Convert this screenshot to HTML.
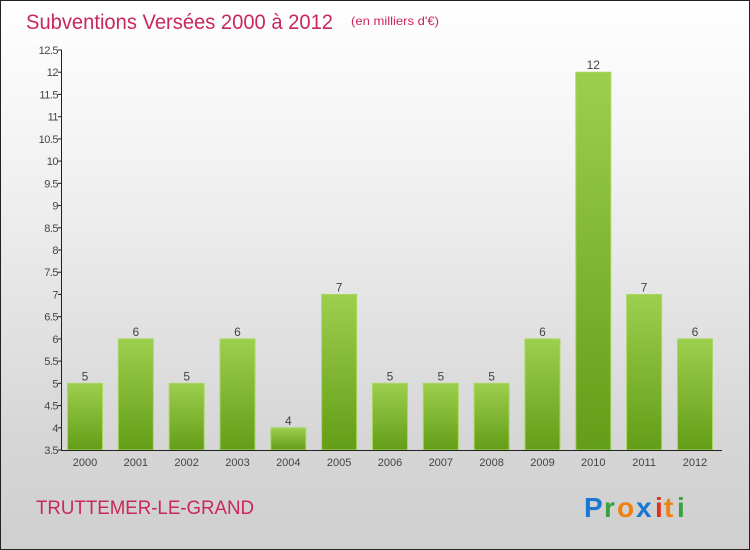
<!DOCTYPE html>
<html><head><meta charset="utf-8"><style>
html,body{margin:0;padding:0}
body{width:750px;height:550px;overflow:hidden;font-family:"Liberation Sans",sans-serif}
#frame{position:absolute;left:0;top:0;width:748px;height:548px;border:1px solid #222;background:linear-gradient(#ffffff,#f2f2f2 30%,#d6d6d6 80%,#cfcfcf)}
</style></head><body>
<div id="frame"></div>
<svg id="svg" width="750" height="550" style="position:absolute;left:0;top:0">
<text x="26" y="29" font-size="21" fill="#c8285a" textLength="307" lengthAdjust="spacingAndGlyphs">Subventions Versées 2000 à 2012</text>
<text x="351" y="25" font-size="12" fill="#c8285a" textLength="88" lengthAdjust="spacingAndGlyphs">(en milliers d'€)</text>
<text x="36" y="514" font-size="19" fill="#c8285a" textLength="218" lengthAdjust="spacingAndGlyphs">TRUTTEMER-LE-GRAND</text>
<g font-size="28" font-weight="bold" font-family="'Liberation Sans',sans-serif">
<text x="584" y="517" fill="#1a78d0">P</text><text x="604" y="517" fill="#3aa040">r</text><text x="617" y="517" fill="#f08010">o</text><text x="636" y="517" fill="#1a78d0">x</text><text x="655" y="517" fill="#e03020">i</text><text x="664" y="517" fill="#f08010">t</text><text x="677" y="517" fill="#3aa040">i</text>
</g>
<defs><linearGradient id="bg" x1="0" y1="0" x2="0" y2="1"><stop offset="0" stop-color="#9ccf4e"/><stop offset="1" stop-color="#649d17"/></linearGradient></defs>
<g id="plot"></g>
</svg>
<script>
const years=["2000","2001","2002","2003","2004","2005","2006","2007","2008","2009","2010","2011","2012"];
const values=[5,6,5,6,4,7,5,5,5,6,12,7,6];
const labels=["5","6","5","6","4","7","5","5","5","6","12","7","6"];
const ticks=[3.5,4,4.5,5,5.5,6,6.5,7,7.5,8,8.5,9,9.5,10,10.5,11,11.5,12,12.5];
const ns="http://www.w3.org/2000/svg";
const g=document.getElementById('plot');
const y=v=>450-(v-3.5)*400/9;
const x=i=>85+i*50.83;
function mk(t,a){const e=document.createElementNS(ns,t);for(const k in a)e.setAttribute(k,a[k]);g.appendChild(e);return e;}
values.forEach((v,i)=>{
 const r=mk('rect',{x:x(i)-17.5,y:y(v),width:35,height:450-y(v),fill:'url(#bg)',stroke:'#a8d860','stroke-width':1});
 
 
 const t=mk('text',{x:x(i),y:y(v)-3,'font-size':12,fill:'#444','text-anchor':'middle'});t.textContent=labels[i];
 
 
 const xl=mk('text',{x:x(i),y:466,'font-size':11,fill:'#444','text-anchor':'middle'});xl.textContent=years[i];
 
 
});
ticks.forEach(v=>{
 mk('line',{x1:58,x2:62,y1:y(v),y2:y(v),stroke:'#222'});
 const t=mk('text',{x:58,y:y(v)+4,'font-size':11,fill:'#444','text-anchor':'end','letter-spacing':'-0.5'});t.textContent=v;
 
 
});
const ya=mk('line',{x1:61.5,x2:61.5,y1:50,y2:450,stroke:'#222'});


const xa=mk('line',{x1:61,x2:722,y1:450.5,y2:450.5,stroke:'#222'});


</script>
</body></html>
